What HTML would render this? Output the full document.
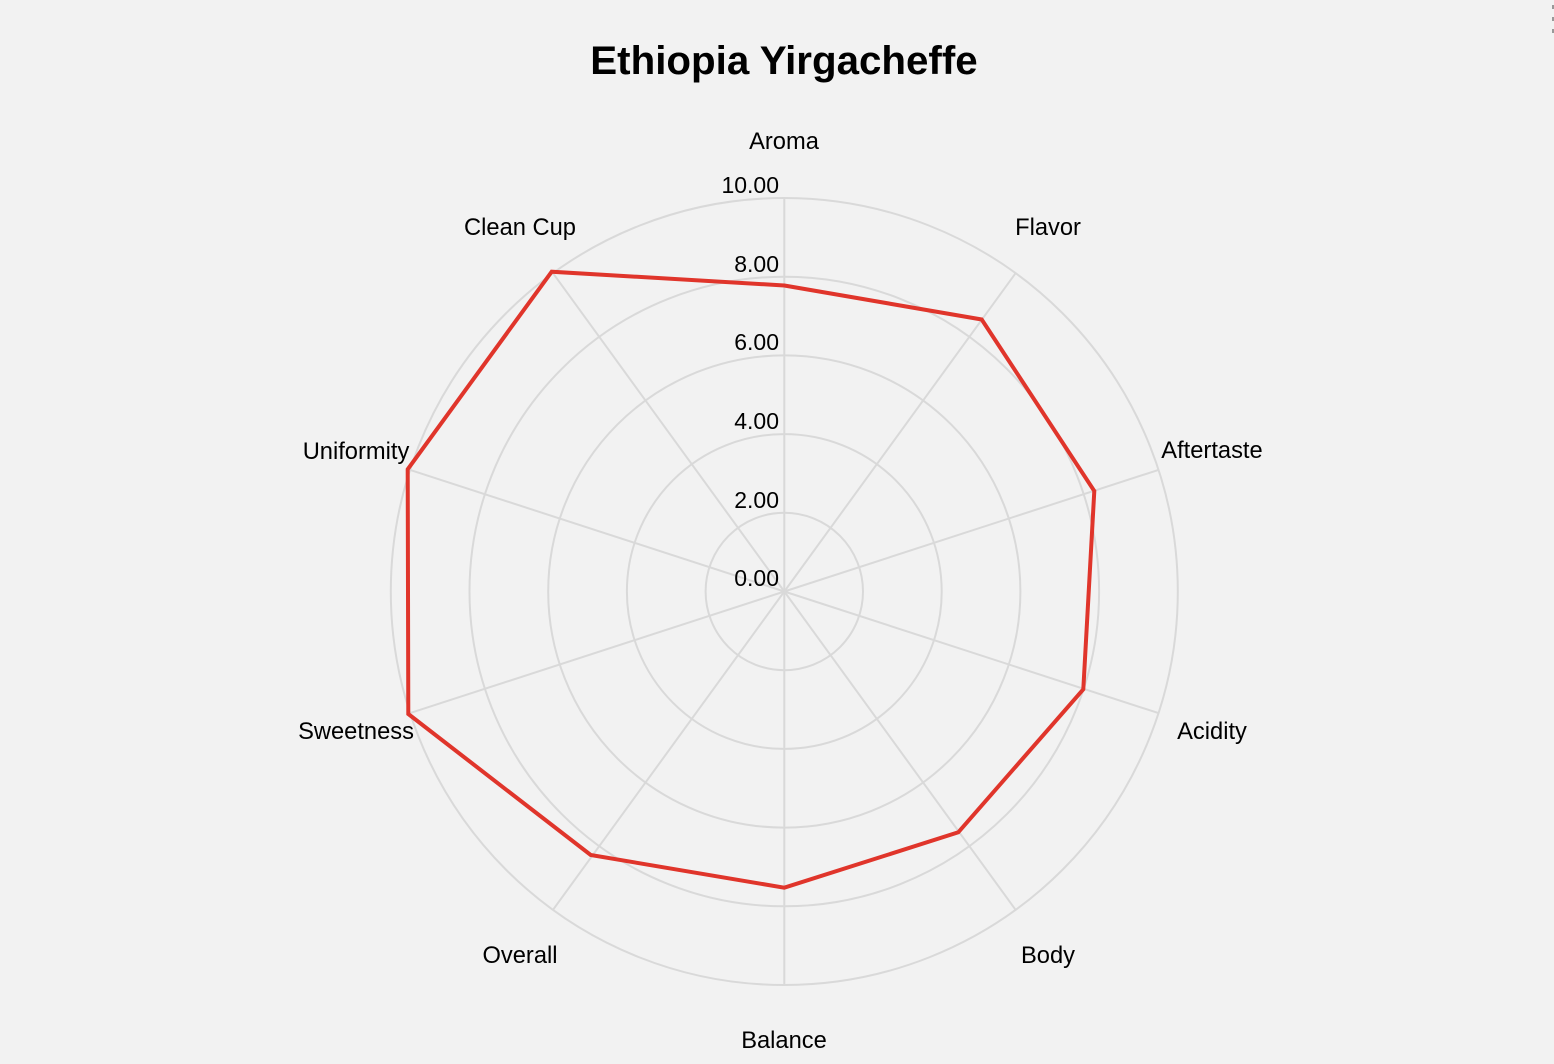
<!DOCTYPE html>
<html><head><meta charset="utf-8"><style>
html,body{margin:0;padding:0;background:#f2f2f2;}
svg{display:block;}
text{font-family:"Liberation Sans",Arial,sans-serif;fill:#000;}
</style></head><body>
<svg width="1554" height="1064" viewBox="0 0 1554 1064" xmlns="http://www.w3.org/2000/svg">
<rect width="1554" height="1064" fill="#f2f2f2"/>
<text x="784" y="74" font-size="40.3" font-weight="bold" text-anchor="middle">Ethiopia Yirgacheffe</text>
<g fill="none" stroke="#d9d9d9" stroke-width="2">
<circle cx="784.3" cy="591.5" r="78.7"/>
<circle cx="784.3" cy="591.5" r="157.4"/>
<circle cx="784.3" cy="591.5" r="236.1"/>
<circle cx="784.3" cy="591.5" r="314.8"/>
<circle cx="784.3" cy="591.5" r="393.5"/>
<line x1="784.3" y1="591.5" x2="784.3" y2="198"/>
<line x1="784.3" y1="591.5" x2="1015.6" y2="273.2"/>
<line x1="784.3" y1="591.5" x2="1158.5" y2="469.9"/>
<line x1="784.3" y1="591.5" x2="1158.5" y2="713.1"/>
<line x1="784.3" y1="591.5" x2="1015.6" y2="909.8"/>
<line x1="784.3" y1="591.5" x2="784.3" y2="985"/>
<line x1="784.3" y1="591.5" x2="553" y2="909.8"/>
<line x1="784.3" y1="591.5" x2="410.1" y2="713.1"/>
<line x1="784.3" y1="591.5" x2="410.1" y2="469.9"/>
<line x1="784.3" y1="591.5" x2="553" y2="273.2"/>
</g>
<g font-size="23" text-anchor="end">
<text x="779" y="193">10.00</text>
<text x="779" y="272">8.00</text>
<text x="779" y="350">6.00</text>
<text x="779" y="429">4.00</text>
<text x="779" y="508">2.00</text>
<text x="779" y="586">0.00</text>
</g>
<polygon fill="none" stroke="#e0352b" stroke-width="4" stroke-linejoin="miter"
points="784.3,285.5 981.7,319.5 1094.3,491 1083.3,689.3 958.3,832.3 784.3,887.7 590.7,855 408.3,714 407.7,469.3 551.7,271.7"/>
<g font-size="23.7" text-anchor="middle">
<text x="784" y="149">Aroma</text>
<text x="1048" y="235">Flavor</text>
<text x="1212" y="458">Aftertaste</text>
<text x="1212" y="739">Acidity</text>
<text x="1048" y="963">Body</text>
<text x="784" y="1048">Balance</text>
<text x="520" y="963">Overall</text>
<text x="356" y="739">Sweetness</text>
<text x="356" y="459">Uniformity</text>
<text x="520" y="235">Clean Cup</text>
</g>
<g fill="#999">
<rect x="1552" y="5" width="2" height="4"/>
<rect x="1552" y="17" width="2" height="4"/>
<rect x="1552" y="29" width="2" height="4"/>
</g>
</svg>
</body></html>
